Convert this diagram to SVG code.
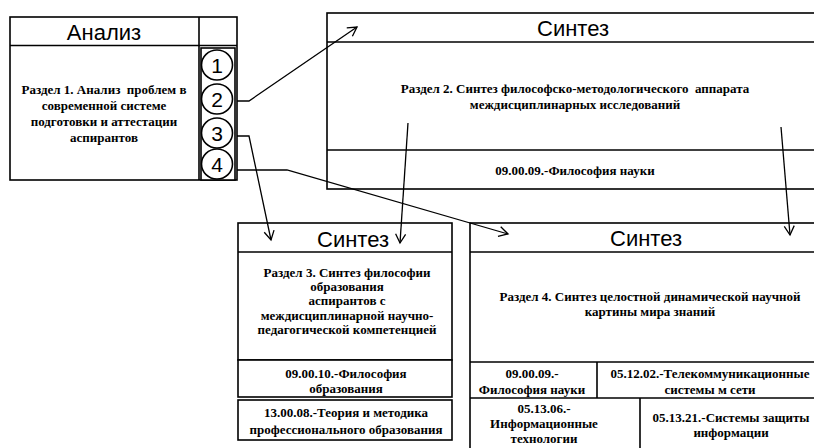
<svg xmlns="http://www.w3.org/2000/svg" width="814" height="448" viewBox="0 0 814 448">
<style>
.box{fill:#fff;stroke:#000;stroke-width:1.6}
.ln{fill:none;stroke:#000;stroke-width:1.6}
.hd{font-family:"Liberation Sans",Arial,sans-serif;font-size:22px;text-anchor:middle;dominant-baseline:central;fill:#000}
.num{font-family:"Liberation Sans",Arial,sans-serif;font-size:21px;text-anchor:middle;dominant-baseline:central;fill:#000}
.tx{font-family:"Liberation Serif","Times New Roman",serif;font-weight:bold;font-size:13px;text-anchor:middle;dominant-baseline:central;fill:#000;white-space:pre}
.cn{fill:none;stroke:#000;stroke-width:1.3}
</style>
<defs>
<marker id="ah" viewBox="-10 -6 12 12" refX="0" refY="0" markerWidth="12" markerHeight="12" markerUnits="userSpaceOnUse" orient="auto">
<polyline points="-9,-5 0,0 -9,5" fill="none" stroke="#000" stroke-width="1.3"/>
</marker>
</defs>
<rect width="814" height="448" fill="#fff"/>

<g id="analysis">
<rect class="box" x="10" y="17" width="227" height="163"/>
<line class="ln" x1="10" y1="45.5" x2="237" y2="45.5"/>
<line class="ln" x1="199" y1="17" x2="199" y2="180"/>
<rect class="box" x="201" y="48" width="34" height="132"/>
<text class="hd" x="104" y="32">Анализ</text>
<text class="tx" x="104" y="89">Раздел 1. Анализ  проблем в</text>
<text class="tx" x="104" y="105">современной системе</text>
<text class="tx" x="104" y="121">подготовки и аттестации</text>
<text class="tx" x="104" y="137">аспирантов</text>
<ellipse class="ln" cx="217" cy="65" rx="15.5" ry="15"/>
<ellipse class="ln" cx="217" cy="99" rx="15.5" ry="15"/>
<ellipse class="ln" cx="217" cy="133" rx="15.5" ry="15"/>
<ellipse class="ln" cx="217" cy="164" rx="15.5" ry="15"/>
<text class="num" x="217" y="65">1</text>
<text class="num" x="217" y="99">2</text>
<text class="num" x="217" y="133">3</text>
<text class="num" x="217" y="164">4</text>
</g>

<g id="synthesis2">
<rect class="box" x="327" y="13" width="500" height="176"/>
<line class="ln" x1="327" y1="42" x2="827" y2="42"/>
<line class="ln" x1="327" y1="150" x2="827" y2="150"/>
<text class="hd" x="573" y="28">Синтез</text>
<text class="tx" x="575" y="88">Раздел 2. Синтез философско-методологического  аппарата</text>
<text class="tx" x="575" y="104">междисциплинарных исследований</text>
<text class="tx" x="575" y="170">09.00.09.-Философия науки</text>
</g>

<g id="synthesis3">
<rect class="box" x="238" y="223" width="214" height="137"/>
<line class="ln" x1="238" y1="252" x2="452" y2="252"/>
<rect class="box" x="238" y="360" width="214" height="37"/>
<rect class="box" x="238" y="400" width="214" height="40"/>
<text class="hd" x="353" y="239">Синтез</text>
<text class="tx" x="347" y="272.5">Раздел 3. Синтез философии</text>
<text class="tx" x="347" y="286.5">образования</text>
<text class="tx" x="347" y="300.5">аспирантов с</text>
<text class="tx" x="347" y="315.5">междисциплинарной научно-</text>
<text class="tx" x="347" y="329.5">педагогической компетенцией</text>
<text class="tx" x="346" y="373">09.00.10.-Философия</text>
<text class="tx" x="346" y="388">образования</text>
<text class="tx" x="346" y="412">13.00.08.-Теория и методика</text>
<text class="tx" x="346" y="429">профессионального образования</text>
</g>

<g id="synthesis4">
<rect class="box" x="470" y="223" width="356" height="240"/>
<line class="ln" x1="470" y1="252" x2="826" y2="252"/>
<line class="ln" x1="470" y1="362" x2="826" y2="362"/>
<line class="ln" x1="470" y1="398" x2="826" y2="398"/>
<line class="ln" x1="597" y1="362" x2="597" y2="398"/>
<line class="ln" x1="640" y1="398" x2="640" y2="463"/>
<text class="hd" x="646" y="238">Синтез</text>
<text class="tx" x="650" y="296">Раздел 4. Синтез целостной динамической научной</text>
<text class="tx" x="650" y="311">картины мира знаний</text>
<text class="tx" x="532" y="373">09.00.09.-</text>
<text class="tx" x="532" y="389">Философия науки</text>
<text class="tx" x="710" y="373">05.12.02.-Телекоммуникационные</text>
<text class="tx" x="710" y="389">системы м сети</text>
<text class="tx" x="544" y="408">05.13.06.-</text>
<text class="tx" x="544" y="423">Информационные</text>
<text class="tx" x="544" y="438">технологии</text>
<text class="tx" x="731" y="417">05.13.21.-Системы защиты</text>
<text class="tx" x="731" y="432">информации</text>
</g>

<g id="connectors">
<polyline class="cn" points="237,101 249,101 357,27" marker-end="url(#ah)"/>
<polyline class="cn" points="237,136 249,136 271,240" marker-end="url(#ah)"/>
<polyline class="cn" points="237,170 287,170 508,234" marker-end="url(#ah)"/>
<line class="cn" x1="408" y1="123" x2="400" y2="243" marker-end="url(#ah)"/>
<line class="cn" x1="781" y1="127" x2="790" y2="235" marker-end="url(#ah)"/>
</g>
</svg>
